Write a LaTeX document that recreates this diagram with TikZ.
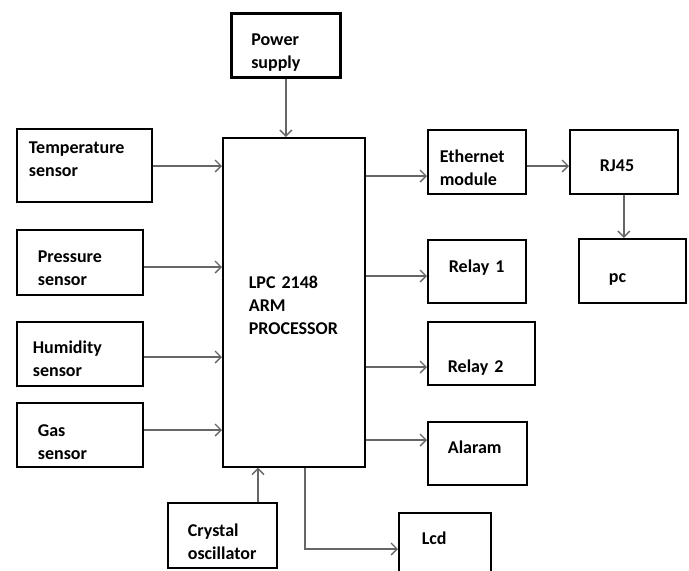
\documentclass[tikz,border=0pt]{standalone}
\usepackage{fontspec}
\setmainfont{Carlito}[WordSpace=0.6]
\usepackage{tikz}
\usetikzlibrary{arrows.meta}

\begin{document}
\begin{tikzpicture}[x=1pt,y=-1pt,
	blk/.style n args={3}{draw,line width=1.7pt,anchor=north west,minimum width=#1,minimum height=#2,
		text width=#3,inner xsep=0pt,align=left,font=\fontsize{18}{23}\selectfont\bfseries},
	tb/.style 2 args={text height=#1,text depth=#2},
	arr/.style={draw=black!60,line width=1.4pt,-{Straight Barb[length=6pt,width=12pt,line width=1.4pt]}}]
\useasboundingbox (0,0) rectangle (689,571);
\clip (0,0) rectangle (689,571);

%blocks
\node[blk={142pt}{329pt}{90pt},tb={20pt}{47pt}] (cpu) at (222,137) {LPC 2148\\ARM\\PROCESSOR};
\node[blk={109pt}{64pt}{69pt},tb={20pt}{20pt},line width=2.6pt] (power) at (230,12) {Power\\supply};

%inputs
\node[blk={135pt}{73pt}{111pt},tb={20pt}{43pt}] (temp) at (16,128) {Temperature\\sensor};
\node[blk={126pt}{65pt}{84pt},tb={20pt}{19pt}] (pres) at (16,229) {Pressure\\sensor};
\node[blk={126pt}{64pt}{94pt},tb={20pt}{20pt}] (humid) at (16,321) {Humidity\\sensor};
\node[blk={126pt}{64pt}{84pt},tb={20pt}{16pt}] (gas) at (16,402) {Gas\\sensor};
\node[blk={109pt}{65pt}{69pt},tb={20pt}{17pt}] (crystal) at (167,502) {Crystal\\oscillator};

%outputs
\node[blk={98pt}{64pt}{74pt},tb={20pt}{18pt}] (eth) at (427,129) {Ethernet\\module};
\node[blk={108pt}{64pt}{48pt},tb={30pt}{10pt}] (rj45) at (569,129) {RJ45};
\node[blk={107pt}{64pt}{47pt},tb={30pt}{6pt}] (pc) at (578,238) {pc};
\node[blk={98pt}{63pt}{56pt},tb={20pt}{17pt}] (relay1) at (427,239) {Relay 1};
\node[blk={107pt}{63pt}{67pt},tb={40pt}{1pt}] (relay2) at (427,321) {Relay 2};
\node[blk={99pt}{63pt}{59pt},tb={20pt}{19pt}] (alarm) at (427,421) {Alaram};
\node[blk={92pt}{64pt}{46pt},tb={20pt}{20pt}] (lcd) at (398,512) {Lcd};

%connectors
\draw[arr] (power.south) -- (power.south |- cpu.north);
\foreach \s/\y in {temp/166,pres/267,humid/357,gas/430}
	\draw[arr] (\s.east |- 0,\y) -- (cpu.west |- 0,\y);
\foreach \s/\y in {eth/176,relay1/276,relay2/367,alarm/440}
	\draw[arr] (cpu.east |- 0,\y) -- (\s.west |- 0,\y);
\draw[arr] (eth.east |- 0,166) -- (rj45.west |- 0,166);
\draw[arr] (rj45.south) -- (rj45.south |- pc.north);
\draw[arr] (crystal.north -| 258,0) -- (cpu.south -| 258,0);
\draw[arr] (cpu.south -| 305,0) |- (lcd.west |- 0,549);
\end{tikzpicture}
\end{document}
